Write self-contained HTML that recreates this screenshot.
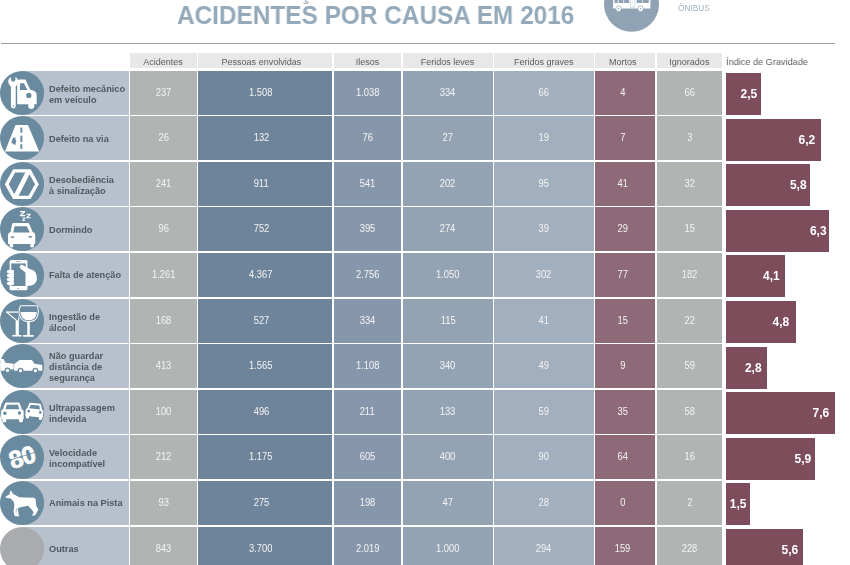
<!DOCTYPE html>
<html><head><meta charset="utf-8">
<style>
*{margin:0;padding:0;box-sizing:border-box}
html,body{width:850px;height:565px;overflow:hidden;background:#fff}
body{position:relative;font-family:"Liberation Sans",sans-serif}
.a,.title,.hd,.c,.lt,.bar{will-change:transform}
.a{position:absolute}
.title{position:absolute;left:177px;top:0px;font-weight:bold;font-size:25px;color:#94a9b9;white-space:nowrap;line-height:30px;transform-origin:0 0;transform:scaleX(0.975)}
.hr{position:absolute;left:0.5px;top:42.6px;width:834px;height:1.6px;background:#9c9c9c}
.hd{position:absolute;top:52.9px;height:15.1px;background:#e8e8e8;color:#5c5c5c;font-size:9.6px;line-height:15.1px;text-align:center;white-space:nowrap}
.hd span{display:inline-block;transform:translateY(1px) scaleX(0.94)}
.c span{display:inline-block;transform:translateY(-1px) scaleX(0.92)}
.c{position:absolute;color:#f4f4f4;font-size:10.2px;text-align:center;white-space:nowrap;display:flex;align-items:center;justify-content:center}
.lab{position:absolute;background:#b6c1cd}
.lt{position:absolute;left:48.7px;color:#53575e;font-weight:bold;font-size:9.2px;line-height:11px;white-space:nowrap;display:flex;flex-direction:column;justify-content:center}
.lt div{transform-origin:0 50%;transform:translateY(2px)}
.bar{position:absolute;left:725.6px;background:#7d4d5c;color:#fff;font-weight:bold;font-size:12px;display:flex;align-items:center;justify-content:flex-end}
.ic{position:absolute;left:0.2px;width:44.1px;height:44.1px}
</style></head><body>

<div class="title">ACIDENTES POR CAUSA EM 2016</div>
<svg class="a" style="left:300px;top:0" width="12" height="6"><path d="M5.2 -1 L5.6 1.3 C7.8 1.4 8.2 2.2 8 2.7 C7.7 3.4 6.2 3.5 3.4 3.3" fill="none" stroke="#94a9b9" stroke-width="1.1"/></svg>
<svg class="a" style="left:603px;top:0" width="58" height="34" viewBox="0 0 58 34">
<circle cx="28.5" cy="4.3" r="27.5" fill="#8fa3b5"/>
<path fill="#fff" d="M10.1 -2 L47.4 -2 L47.4 8.5 L10.1 8.5 Z"/>
<rect x="11.4" y="-1" width="3.4" height="4" fill="#8fa3b5"/><rect x="15.6" y="-1" width="4.8" height="4" fill="#8fa3b5"/><rect x="21.1" y="-1" width="5.1" height="4" fill="#8fa3b5"/>
<rect x="33.6" y="-1" width="5.8" height="4" fill="#8fa3b5"/><rect x="40" y="-1" width="5.8" height="4" fill="#8fa3b5"/>
<rect x="27.6" y="-1" width="4.2" height="8.6" fill="none" stroke="#c4cfd8" stroke-width="0.6"/><rect x="29.55" y="-1" width="0.3" height="8.6" fill="#c4cfd8"/>
<circle cx="15.6" cy="8.7" r="2.8" fill="#fff" stroke="#8fa3b5" stroke-width="0.7"/><circle cx="15.6" cy="8.7" r="0.8" fill="#8fa3b5"/>
<circle cx="37.6" cy="8.7" r="2.8" fill="#fff" stroke="#8fa3b5" stroke-width="0.7"/><circle cx="37.6" cy="8.7" r="0.8" fill="#8fa3b5"/>
</svg>
<div class="a" style="left:677.6px;top:2.2px;font-size:8.3px;color:#a2b1c0;line-height:12px">ÔNIBUS</div>
<div class="hr"></div>
<div class="hd" style="left:130.3px;width:66.50px;padding-left:0px;padding-right:0px"><span>Acidentes</span></div>
<div class="hd" style="left:198.4px;width:134.30px;padding-left:0px;padding-right:8px"><span>Pessoas envolvidas</span></div>
<div class="hd" style="left:334.3px;width:67.20px;padding-left:0px;padding-right:0px"><span>Ilesos</span></div>
<div class="hd" style="left:403.1px;width:89.50px;padding-left:0px;padding-right:0px"><span>Feridos leves</span></div>
<div class="hd" style="left:494.2px;width:99.50px;padding-left:0px;padding-right:0px"><span>Feridos graves</span></div>
<div class="hd" style="left:595.3px;width:59.70px;padding-left:0px;padding-right:4px"><span>Mortos</span></div>
<div class="hd" style="left:656.6px;width:65.40px;padding-left:0px;padding-right:0px"><span>Ignorados</span></div>
<div class="a" style="left:725.6px;top:53.6px;height:15px;line-height:15px;font-size:9.6px;color:#5c5c5c;white-space:nowrap;transform-origin:0 0;transform:scaleX(0.955)">Índice de Gravidade</div>
<div class="lab" style="left:22px;top:70.50px;width:106.7px;height:44.1px"></div>
<svg class="ic" style="top:70.50px" viewBox="0 0 44 44" overflow="visible"><defs><clipPath id="cp0"><circle cx="22" cy="22" r="22"/></clipPath></defs><circle cx="22" cy="22" r="22" fill="#6a8aa0"/><g clip-path="url(#cp0)"><circle cx="13.2" cy="10.6" r="5" fill="#ffffff"/>
<path fill="#6a8aa0" d="M11 4 L15.4 4 L15.4 8.4 A2.2 2.2 0 0 1 11 8.4 Z"/>
<path fill="#ffffff" d="M10.9 12 L15.7 12 L15.7 34.9 A2.4 2.4 0 0 1 10.9 34.9 Z"/>
<circle cx="13.3" cy="35" r="0.7" fill="#6a8aa0"/>
<path fill="#ffffff" d="M17.2 33.3 L17.2 11.2 Q17.2 8.6 19.8 8.6 L25.4 8.6 L30.2 18.6 C34.2 19.2 36.6 21 36.6 24 L36.6 33.3 Z"/>
<path fill="#6a8aa0" d="M19.9 12.3 L23.9 12.3 L27.3 18.9 L19.9 18.9 Z"/>
<circle cx="28.8" cy="24.4" r="2.6" fill="#6a8aa0"/>
<circle cx="31.2" cy="34.8" r="3.1" fill="#ffffff"/></g></svg>
<div class="lt" style="top:70.50px;height:44.1px"><div>Defeito mecânico</div><div>em veículo</div></div>
<div class="c" style="left:130.3px;top:70.50px;width:66.50px;height:44.1px;background:#b0b4b3;padding-left:0px;padding-right:0px"><span>237</span></div>
<div class="c" style="left:198.4px;top:70.50px;width:134.30px;height:44.1px;background:#6e849b;padding-left:0px;padding-right:8px"><span>1.508</span></div>
<div class="c" style="left:334.3px;top:70.50px;width:67.20px;height:44.1px;background:#8797ab;padding-left:0px;padding-right:0px"><span>1.038</span></div>
<div class="c" style="left:403.1px;top:70.50px;width:89.50px;height:44.1px;background:#94a3b3;padding-left:0px;padding-right:0px"><span>334</span></div>
<div class="c" style="left:494.2px;top:70.50px;width:99.50px;height:44.1px;background:#a2afbe;padding-left:0px;padding-right:0px"><span>66</span></div>
<div class="c" style="left:595.3px;top:70.50px;width:59.70px;height:44.1px;background:#8e6a79;padding-left:0px;padding-right:4px"><span>4</span></div>
<div class="c" style="left:656.6px;top:70.50px;width:65.40px;height:44.1px;background:#b0b4b3;padding-left:0px;padding-right:0px"><span>66</span></div>
<div class="bar" style="top:73.00px;width:34.90px;height:41.60px;padding-right:3.60px">2,5</div>
<div class="lab" style="left:22px;top:116.11px;width:106.7px;height:44.1px"></div>
<svg class="ic" style="top:116.11px" viewBox="0 0 44 44" overflow="visible"><defs><clipPath id="cp1"><circle cx="22" cy="22" r="22"/></clipPath></defs><circle cx="22" cy="22" r="22" fill="#6a8aa0"/><g clip-path="url(#cp1)"><path fill="#ffffff" d="M15.5 9 L27.9 9 L39.1 35.3 L4.9 35.3 Z"/>
<rect x="20.3" y="11.5" width="2" height="5.1" fill="#6a8aa0"/><rect x="20.3" y="19.6" width="2" height="6.4" fill="#6a8aa0"/><rect x="20.3" y="28.1" width="2" height="4.7" fill="#6a8aa0"/>
<path fill="#6a8aa0" d="M12.5 21.2 L14 22 L15.6 21 L15.4 23.5 L16.4 25.2 L15.5 27.1 L16 29.2 L14.2 27.9 L12.9 28.4 L12.6 26.9 L11 27.1 L12 25.3 L11.5 23.4 L13 23.2 Z"/></g></svg>
<div class="lt" style="top:114.51px;height:44.1px"><div>Defeito na via</div></div>
<div class="c" style="left:130.3px;top:116.11px;width:66.50px;height:44.1px;background:#b0b4b3;padding-left:0px;padding-right:0px"><span>26</span></div>
<div class="c" style="left:198.4px;top:116.11px;width:134.30px;height:44.1px;background:#6e849b;padding-left:0px;padding-right:8px"><span>132</span></div>
<div class="c" style="left:334.3px;top:116.11px;width:67.20px;height:44.1px;background:#8797ab;padding-left:0px;padding-right:0px"><span>76</span></div>
<div class="c" style="left:403.1px;top:116.11px;width:89.50px;height:44.1px;background:#94a3b3;padding-left:0px;padding-right:0px"><span>27</span></div>
<div class="c" style="left:494.2px;top:116.11px;width:99.50px;height:44.1px;background:#a2afbe;padding-left:0px;padding-right:0px"><span>19</span></div>
<div class="c" style="left:595.3px;top:116.11px;width:59.70px;height:44.1px;background:#8e6a79;padding-left:0px;padding-right:4px"><span>7</span></div>
<div class="c" style="left:656.6px;top:116.11px;width:65.40px;height:44.1px;background:#b0b4b3;padding-left:0px;padding-right:0px"><span>3</span></div>
<div class="bar" style="top:118.61px;width:95.40px;height:41.60px;padding-right:6.20px">6,2</div>
<div class="lab" style="left:22px;top:161.72px;width:106.7px;height:44.1px"></div>
<svg class="ic" style="top:161.72px" viewBox="0 0 44 44" overflow="visible"><defs><clipPath id="cp2"><circle cx="22" cy="22" r="22"/></clipPath></defs><circle cx="22" cy="22" r="22" fill="#6a8aa0"/><g clip-path="url(#cp2)"><path fill="#ffffff" fill-rule="evenodd" d="M13.1 7.2 L30.5 7.2 L38.8 22.1 L30.5 37 L13.1 37 L4.8 22.1 Z M15.1 10.6 L28.5 10.6 L34.9 22.1 L28.5 33.6 L15.1 33.6 L8.7 22.1 Z"/>
<path fill="#ffffff" d="M25.5 10 L30.7 10 L18.3 34.2 L13.1 34.2 Z"/></g></svg>
<div class="lt" style="top:161.72px;height:44.1px"><div>Desobediência</div><div>à sinalização</div></div>
<div class="c" style="left:130.3px;top:161.72px;width:66.50px;height:44.1px;background:#b0b4b3;padding-left:0px;padding-right:0px"><span>241</span></div>
<div class="c" style="left:198.4px;top:161.72px;width:134.30px;height:44.1px;background:#6e849b;padding-left:0px;padding-right:8px"><span>911</span></div>
<div class="c" style="left:334.3px;top:161.72px;width:67.20px;height:44.1px;background:#8797ab;padding-left:0px;padding-right:0px"><span>541</span></div>
<div class="c" style="left:403.1px;top:161.72px;width:89.50px;height:44.1px;background:#94a3b3;padding-left:0px;padding-right:0px"><span>202</span></div>
<div class="c" style="left:494.2px;top:161.72px;width:99.50px;height:44.1px;background:#a2afbe;padding-left:0px;padding-right:0px"><span>95</span></div>
<div class="c" style="left:595.3px;top:161.72px;width:59.70px;height:44.1px;background:#8e6a79;padding-left:0px;padding-right:4px"><span>41</span></div>
<div class="c" style="left:656.6px;top:161.72px;width:65.40px;height:44.1px;background:#b0b4b3;padding-left:0px;padding-right:0px"><span>32</span></div>
<div class="bar" style="top:164.22px;width:83.70px;height:41.60px;padding-right:3.10px">5,8</div>
<div class="lab" style="left:22px;top:207.33px;width:106.7px;height:44.1px"></div>
<svg class="ic" style="top:207.33px" viewBox="0 0 44 44" overflow="visible"><defs><clipPath id="cp3"><circle cx="22" cy="22" r="22"/></clipPath></defs><circle cx="22" cy="22" r="22" fill="#6a8aa0"/><g clip-path="url(#cp3)"><path fill="#ffffff" d="M14 15.9 L27.3 15.9 C28.3 15.9 28.9 16.4 29.3 17.2 L32.6 25 C34.3 25.6 35.2 26.8 35.2 28.4 L35.2 36.6 L33.9 36.8 L33.9 39 C33.9 40 33.2 40.4 32 40.4 C30.8 40.4 30.2 40 30.2 39 L30.2 36.9 L13.2 36.9 L13.2 39 C13.2 40 12.6 40.4 11.4 40.4 C10.2 40.4 9.6 40 9.6 39 L9.6 36.8 L8 36.6 L8 28.4 C8 26.8 8.9 25.6 10.6 25 L12 17.2 C12.4 16.4 13 15.9 14 15.9 Z"/>
<path fill="#6a8aa0" d="M14.6 19.3 L26.8 19.3 L29.8 25.4 L13.2 25.4 Z"/>
<ellipse cx="12.4" cy="30" rx="1.9" ry="0.9" fill="#6a8aa0"/>
<ellipse cx="30.2" cy="29.8" rx="1.9" ry="0.9" fill="#6a8aa0"/>
<path fill="#ffffff" d="M19.9 4 L25.1 4 L25.1 5.2 L21.8 8 L25.3 8 L25.3 9.2 L19.8 9.2 L19.8 8 L23.1 5.2 L19.9 5.2 Z"/>
<path fill="#ffffff" d="M26.3 6.7 L30.6 6.7 L30.6 7.8 L27.9 10.3 L30.8 10.3 L30.8 11.3 L26.2 11.3 L26.2 10.3 L29 7.8 L26.3 7.8 Z"/>
<path fill="#ffffff" d="M22.4 10.6 L25.2 10.6 L25.2 11.4 L23.5 13.2 L25.3 13.2 L25.3 14 L22.3 14 L22.3 13.2 L24 11.4 L22.4 11.4 Z"/></g></svg>
<div class="lt" style="top:205.73px;height:44.1px"><div>Dormindo</div></div>
<div class="c" style="left:130.3px;top:207.33px;width:66.50px;height:44.1px;background:#b0b4b3;padding-left:0px;padding-right:0px"><span>96</span></div>
<div class="c" style="left:198.4px;top:207.33px;width:134.30px;height:44.1px;background:#6e849b;padding-left:0px;padding-right:8px"><span>752</span></div>
<div class="c" style="left:334.3px;top:207.33px;width:67.20px;height:44.1px;background:#8797ab;padding-left:0px;padding-right:0px"><span>395</span></div>
<div class="c" style="left:403.1px;top:207.33px;width:89.50px;height:44.1px;background:#94a3b3;padding-left:0px;padding-right:0px"><span>274</span></div>
<div class="c" style="left:494.2px;top:207.33px;width:99.50px;height:44.1px;background:#a2afbe;padding-left:0px;padding-right:0px"><span>39</span></div>
<div class="c" style="left:595.3px;top:207.33px;width:59.70px;height:44.1px;background:#8e6a79;padding-left:0px;padding-right:4px"><span>29</span></div>
<div class="c" style="left:656.6px;top:207.33px;width:65.40px;height:44.1px;background:#b0b4b3;padding-left:0px;padding-right:0px"><span>15</span></div>
<div class="bar" style="top:209.83px;width:103.40px;height:41.60px;padding-right:2.80px">6,3</div>
<div class="lab" style="left:22px;top:252.94px;width:106.7px;height:44.1px"></div>
<svg class="ic" style="top:252.94px" viewBox="0 0 44 44" overflow="visible"><defs><clipPath id="cp4"><circle cx="22" cy="22" r="22"/></clipPath></defs><circle cx="22" cy="22" r="22" fill="#6a8aa0"/><g clip-path="url(#cp4)"><rect x="9.6" y="7" width="17.8" height="30.2" rx="1.6" fill="#ffffff"/>
<rect x="11.3" y="10.4" width="14.4" height="22.5" fill="#6a8aa0"/>
<rect x="16" y="8.4" width="4.6" height="0.6" fill="#6a8aa0"/>
<circle cx="18.2" cy="35.3" r="0.7" fill="#6a8aa0"/>
<path fill="#ffffff" d="M20.4 12.2 C21.4 11.6 22.4 11.8 23.4 12.4 L30 16.2 C35 17 36.8 20.5 36.8 25 C36.8 29.8 34 32.6 29.5 32.6 L25.6 32.6 L25.6 19.6 L20.6 15.8 C19.4 14.8 19.4 12.9 20.4 12.2 Z"/>
<rect x="6.8" y="16.9" width="6.9" height="3.3" rx="1.65" fill="#ffffff"/>
<rect x="6.8" y="20.8" width="6.9" height="3.3" rx="1.65" fill="#ffffff"/>
<rect x="6.8" y="24.7" width="6.9" height="3.3" rx="1.65" fill="#ffffff"/>
<rect x="6.8" y="28.6" width="6.9" height="3.3" rx="1.65" fill="#ffffff"/>
<rect x="11.3" y="16.9" width="2.4" height="15" fill="#ffffff"/></g></svg>
<div class="lt" style="top:251.34px;height:44.1px"><div>Falta de atenção</div></div>
<div class="c" style="left:130.3px;top:252.94px;width:66.50px;height:44.1px;background:#b0b4b3;padding-left:0px;padding-right:0px"><span>1.261</span></div>
<div class="c" style="left:198.4px;top:252.94px;width:134.30px;height:44.1px;background:#6e849b;padding-left:0px;padding-right:8px"><span>4.367</span></div>
<div class="c" style="left:334.3px;top:252.94px;width:67.20px;height:44.1px;background:#8797ab;padding-left:0px;padding-right:0px"><span>2.756</span></div>
<div class="c" style="left:403.1px;top:252.94px;width:89.50px;height:44.1px;background:#94a3b3;padding-left:0px;padding-right:0px"><span>1.050</span></div>
<div class="c" style="left:494.2px;top:252.94px;width:99.50px;height:44.1px;background:#a2afbe;padding-left:0px;padding-right:0px"><span>302</span></div>
<div class="c" style="left:595.3px;top:252.94px;width:59.70px;height:44.1px;background:#8e6a79;padding-left:0px;padding-right:4px"><span>77</span></div>
<div class="c" style="left:656.6px;top:252.94px;width:65.40px;height:44.1px;background:#b0b4b3;padding-left:0px;padding-right:0px"><span>182</span></div>
<div class="bar" style="top:255.44px;width:58.60px;height:41.60px;padding-right:4.90px">4,1</div>
<div class="lab" style="left:22px;top:298.55px;width:106.7px;height:44.1px"></div>
<svg class="ic" style="top:298.55px" viewBox="0 0 44 44" overflow="visible"><defs><clipPath id="cp5"><circle cx="22" cy="22" r="22"/></clipPath></defs><circle cx="22" cy="22" r="22" fill="#6a8aa0"/><g clip-path="url(#cp5)"><path fill="none" stroke="#ffffff" stroke-width="1.1" d="M6.6 13 L17 21.9 M20 13 L18.4 21.9"/>
<rect x="6" y="12.4" width="14.4" height="1.3" fill="#ffffff"/>
<path fill="#ffffff" d="M15.6 21.4 L18.8 21.4 L18.8 36.3 L15.6 36.3 Z"/>
<rect x="12.1" y="35.8" width="9.6" height="1.5" rx="0.6" fill="#ffffff"/>
<path fill="#6a8aa0" d="M19.6 5.8 L38.4 5.8 C39.5 9.6 39.6 13 38.8 16.2 C37.5 21 33.6 23.6 28.6 23.6 C23.6 23.6 19.7 21 18.4 16.2 C17.6 13 17.9 9.6 19.6 5.8 Z"/>
<path fill="none" stroke="#ffffff" stroke-width="1.05" d="M20.6 6.8 L37.4 6.8 C38.4 10 38.6 13 37.8 16 C36.6 20.2 33 22.6 28.6 22.6 C24.2 22.6 20.6 20.2 19.4 16 C18.6 13 18.8 10 20.6 6.8 Z"/>
<path fill="#ffffff" d="M20.6 13 L36.6 13 C36.6 14 36.5 15 36.2 16 C35.2 19.3 32.4 21.3 28.6 21.3 C24.8 21.3 22 19.3 21 16 C20.7 15 20.6 14 20.6 13 Z"/>
<rect x="27.2" y="22.3" width="2.5" height="14" fill="#ffffff"/>
<rect x="22.9" y="36" width="10.9" height="1.7" rx="0.7" fill="#ffffff"/></g></svg>
<div class="lt" style="top:298.55px;height:44.1px"><div>Ingestão de</div><div>álcool</div></div>
<div class="c" style="left:130.3px;top:298.55px;width:66.50px;height:44.1px;background:#b0b4b3;padding-left:0px;padding-right:0px"><span>168</span></div>
<div class="c" style="left:198.4px;top:298.55px;width:134.30px;height:44.1px;background:#6e849b;padding-left:0px;padding-right:8px"><span>527</span></div>
<div class="c" style="left:334.3px;top:298.55px;width:67.20px;height:44.1px;background:#8797ab;padding-left:0px;padding-right:0px"><span>334</span></div>
<div class="c" style="left:403.1px;top:298.55px;width:89.50px;height:44.1px;background:#94a3b3;padding-left:0px;padding-right:0px"><span>115</span></div>
<div class="c" style="left:494.2px;top:298.55px;width:99.50px;height:44.1px;background:#a2afbe;padding-left:0px;padding-right:0px"><span>41</span></div>
<div class="c" style="left:595.3px;top:298.55px;width:59.70px;height:44.1px;background:#8e6a79;padding-left:0px;padding-right:4px"><span>15</span></div>
<div class="c" style="left:656.6px;top:298.55px;width:65.40px;height:44.1px;background:#b0b4b3;padding-left:0px;padding-right:0px"><span>22</span></div>
<div class="bar" style="top:301.05px;width:69.60px;height:41.60px;padding-right:6.40px">4,8</div>
<div class="lab" style="left:22px;top:344.16px;width:106.7px;height:44.1px"></div>
<svg class="ic" style="top:344.16px" viewBox="0 0 44 44" overflow="visible"><defs><clipPath id="cp6"><circle cx="22" cy="22" r="22"/></clipPath></defs><circle cx="22" cy="22" r="22" fill="#6a8aa0"/><g clip-path="url(#cp6)"><path fill="#ffffff" d="M-2 26.6 L-2 14.9 L3.6 14.9 L5.4 18.6 L13.6 19.8 L13.6 26.6 Z"/>
<path fill="#ffffff" d="M14.1 26.8 L14.1 19.9 L19.6 16 L31.9 16 L34.4 19.6 L42.2 20.9 L42.2 26.8 Z"/>
<rect x="10" y="25.3" width="4.1" height="1.6" fill="#6a8aa0"/>
<circle cx="7.5" cy="26.4" r="3" fill="#6a8aa0"/><circle cx="7.5" cy="26.4" r="1.6" fill="#ffffff"/>
<circle cx="20.5" cy="26.6" r="3" fill="#6a8aa0"/><circle cx="20.5" cy="26.6" r="1.6" fill="#ffffff"/>
<circle cx="35.3" cy="26.6" r="3" fill="#6a8aa0"/><circle cx="35.3" cy="26.6" r="1.6" fill="#ffffff"/></g></svg>
<div class="lt" style="top:343.36px;height:44.1px"><div>Não guardar</div><div>distância de</div><div>segurança</div></div>
<div class="c" style="left:130.3px;top:344.16px;width:66.50px;height:44.1px;background:#b0b4b3;padding-left:0px;padding-right:0px"><span>413</span></div>
<div class="c" style="left:198.4px;top:344.16px;width:134.30px;height:44.1px;background:#6e849b;padding-left:0px;padding-right:8px"><span>1.565</span></div>
<div class="c" style="left:334.3px;top:344.16px;width:67.20px;height:44.1px;background:#8797ab;padding-left:0px;padding-right:0px"><span>1.108</span></div>
<div class="c" style="left:403.1px;top:344.16px;width:89.50px;height:44.1px;background:#94a3b3;padding-left:0px;padding-right:0px"><span>340</span></div>
<div class="c" style="left:494.2px;top:344.16px;width:99.50px;height:44.1px;background:#a2afbe;padding-left:0px;padding-right:0px"><span>49</span></div>
<div class="c" style="left:595.3px;top:344.16px;width:59.70px;height:44.1px;background:#8e6a79;padding-left:0px;padding-right:4px"><span>9</span></div>
<div class="c" style="left:656.6px;top:344.16px;width:65.40px;height:44.1px;background:#b0b4b3;padding-left:0px;padding-right:0px"><span>59</span></div>
<div class="bar" style="top:346.66px;width:41.40px;height:41.60px;padding-right:5.80px">2,8</div>
<div class="lab" style="left:22px;top:389.77px;width:106.7px;height:44.1px"></div>
<svg class="ic" style="top:389.77px" viewBox="0 0 44 44" overflow="visible"><defs><clipPath id="cp7"><circle cx="22" cy="22" r="22"/></clipPath></defs><circle cx="22" cy="22" r="22" fill="#6a8aa0"/><g clip-path="url(#cp7)"><path fill="#ffffff" d="M6.5 12.5 L18.2 12.5 C19 12.5 19.5 12.9 19.8 13.7 L21.8 19.5 C23 19.9 23.6 20.6 23.6 21.8 L23.6 29.1 L22.8 29.1 L22.8 31.2 C22.8 31.9 22.2 32.2 20.9 32.2 C19.6 32.2 19 31.9 19 31.2 L19 29.1 L6.2 29.1 L6.2 31.2 C6.2 31.9 5.6 32.2 4.3 32.2 C3 32.2 2.35 31.9 2.35 31.2 L2.35 29.1 L1.1 29.1 L1.1 21.8 C1.1 20.6 1.7 19.9 2.9 19.5 L4.9 13.7 C5.2 12.9 5.7 12.5 6.5 12.5 Z"/>
<path fill="#6a8aa0" d="M6.8 14.8 L18 14.8 L19.3 19.3 L5.6 19.3 Z"/>
<circle cx="4.9" cy="23.2" r="1.7" fill="#6a8aa0"/><circle cx="19.4" cy="22.9" r="1.7" fill="#6a8aa0"/>
<g transform="rotate(6 34 22)">
<path fill="#ffffff" d="M29.6 13.2 L38.8 13.2 C39.5 13.2 39.9 13.5 40.2 14.2 L41.8 19 C42.7 19.3 43.2 19.9 43.2 20.9 L43.2 26.6 L42.5 26.6 L42.5 28.3 C42.5 28.9 42 29.1 41 29.1 C40 29.1 39.5 28.9 39.5 28.3 L39.5 26.6 L29.4 26.6 L29.4 28.3 C29.4 28.9 28.9 29.1 27.9 29.1 C26.9 29.1 26.4 28.9 26.4 28.3 L26.4 26.6 L25.6 26.6 L25.6 20.9 C25.6 19.9 26.1 19.3 27 19 L28.2 14.2 C28.5 13.5 28.9 13.2 29.6 13.2 Z"/>
<path fill="#6a8aa0" d="M29.9 15 L38.5 15 L39.6 18.8 L28.8 18.8 Z"/>
<circle cx="28.6" cy="21.6" r="1.4" fill="#6a8aa0"/><circle cx="40.2" cy="21.6" r="1.4" fill="#6a8aa0"/>
</g></g></svg>
<div class="lt" style="top:389.77px;height:44.1px"><div>Ultrapassagem</div><div>indevida</div></div>
<div class="c" style="left:130.3px;top:389.77px;width:66.50px;height:44.1px;background:#b0b4b3;padding-left:0px;padding-right:0px"><span>100</span></div>
<div class="c" style="left:198.4px;top:389.77px;width:134.30px;height:44.1px;background:#6e849b;padding-left:0px;padding-right:8px"><span>496</span></div>
<div class="c" style="left:334.3px;top:389.77px;width:67.20px;height:44.1px;background:#8797ab;padding-left:0px;padding-right:0px"><span>211</span></div>
<div class="c" style="left:403.1px;top:389.77px;width:89.50px;height:44.1px;background:#94a3b3;padding-left:0px;padding-right:0px"><span>133</span></div>
<div class="c" style="left:494.2px;top:389.77px;width:99.50px;height:44.1px;background:#a2afbe;padding-left:0px;padding-right:0px"><span>59</span></div>
<div class="c" style="left:595.3px;top:389.77px;width:59.70px;height:44.1px;background:#8e6a79;padding-left:0px;padding-right:4px"><span>35</span></div>
<div class="c" style="left:656.6px;top:389.77px;width:65.40px;height:44.1px;background:#b0b4b3;padding-left:0px;padding-right:0px"><span>58</span></div>
<div class="bar" style="top:392.27px;width:108.60px;height:41.60px;padding-right:5.40px">7,6</div>
<div class="lab" style="left:22px;top:435.38px;width:106.7px;height:44.1px"></div>
<svg class="ic" style="top:435.38px" viewBox="0 0 44 44" overflow="visible"><defs><clipPath id="cp8"><circle cx="22" cy="22" r="22"/></clipPath></defs><circle cx="22" cy="22" r="22" fill="#6a8aa0"/><g clip-path="url(#cp8)"><g transform="rotate(-17 22 22)"><text x="22" y="30.6" text-anchor="middle" font-family="Liberation Sans" font-weight="bold" font-size="24.5" fill="#ffffff" stroke="#ffffff" stroke-width="0.7" letter-spacing="-0.5">80</text>
<rect x="4" y="20.9" width="36" height="0.7" fill="#6a8aa0"/></g></g></svg>
<div class="lt" style="top:435.38px;height:44.1px"><div>Velocidade</div><div>incompatível</div></div>
<div class="c" style="left:130.3px;top:435.38px;width:66.50px;height:44.1px;background:#b0b4b3;padding-left:0px;padding-right:0px"><span>212</span></div>
<div class="c" style="left:198.4px;top:435.38px;width:134.30px;height:44.1px;background:#6e849b;padding-left:0px;padding-right:8px"><span>1.175</span></div>
<div class="c" style="left:334.3px;top:435.38px;width:67.20px;height:44.1px;background:#8797ab;padding-left:0px;padding-right:0px"><span>605</span></div>
<div class="c" style="left:403.1px;top:435.38px;width:89.50px;height:44.1px;background:#94a3b3;padding-left:0px;padding-right:0px"><span>400</span></div>
<div class="c" style="left:494.2px;top:435.38px;width:99.50px;height:44.1px;background:#a2afbe;padding-left:0px;padding-right:0px"><span>90</span></div>
<div class="c" style="left:595.3px;top:435.38px;width:59.70px;height:44.1px;background:#8e6a79;padding-left:0px;padding-right:4px"><span>64</span></div>
<div class="c" style="left:656.6px;top:435.38px;width:65.40px;height:44.1px;background:#b0b4b3;padding-left:0px;padding-right:0px"><span>16</span></div>
<div class="bar" style="top:437.88px;width:88.80px;height:41.60px;padding-right:3.60px">5,9</div>
<div class="lab" style="left:22px;top:480.99px;width:106.7px;height:44.1px"></div>
<svg class="ic" style="top:480.99px" viewBox="0 0 44 44" overflow="visible"><defs><clipPath id="cp9"><circle cx="22" cy="22" r="22"/></clipPath></defs><circle cx="22" cy="22" r="22" fill="#6a8aa0"/><g clip-path="url(#cp9)"><path fill="#ffffff" d="M5.3 15.7 L9.3 13.4 L10.6 9.2 L13.2 13 L19.3 16.2 L33.6 16.8 L35.4 17.7 L36.3 25.3 L38.3 28.5 L35.1 34.1 L31.9 34.6 L33.6 31.1 L30.9 27.6 L28.1 24.7 L25.2 25.3 L19.3 26.4 L17.6 27.6 L18.7 33.4 L19.3 35.2 L14.7 35.2 L13.5 30.4 L14.4 24 L13.5 20.4 L10.6 17.5 L6.5 16.9 Z"/>
<path fill="#6a8aa0" d="M15.9 27.5 L16.5 27.3 L16.3 31.5 L15.8 31.7 Z"/></g></svg>
<div class="lt" style="top:479.39px;height:44.1px"><div>Animais na Pista</div></div>
<div class="c" style="left:130.3px;top:480.99px;width:66.50px;height:44.1px;background:#b0b4b3;padding-left:0px;padding-right:0px"><span>93</span></div>
<div class="c" style="left:198.4px;top:480.99px;width:134.30px;height:44.1px;background:#6e849b;padding-left:0px;padding-right:8px"><span>275</span></div>
<div class="c" style="left:334.3px;top:480.99px;width:67.20px;height:44.1px;background:#8797ab;padding-left:0px;padding-right:0px"><span>198</span></div>
<div class="c" style="left:403.1px;top:480.99px;width:89.50px;height:44.1px;background:#94a3b3;padding-left:0px;padding-right:0px"><span>47</span></div>
<div class="c" style="left:494.2px;top:480.99px;width:99.50px;height:44.1px;background:#a2afbe;padding-left:0px;padding-right:0px"><span>28</span></div>
<div class="c" style="left:595.3px;top:480.99px;width:59.70px;height:44.1px;background:#8e6a79;padding-left:0px;padding-right:4px"><span>0</span></div>
<div class="c" style="left:656.6px;top:480.99px;width:65.40px;height:44.1px;background:#b0b4b3;padding-left:0px;padding-right:0px"><span>2</span></div>
<div class="bar" style="top:483.49px;width:23.60px;height:41.60px;padding-right:3.10px">1,5</div>
<div class="lab" style="left:22px;top:526.60px;width:106.7px;height:44.1px"></div>
<svg class="ic" style="top:526.60px" viewBox="0 0 44 44" overflow="visible"><defs><clipPath id="cp10"><circle cx="22" cy="22" r="22"/></clipPath></defs><circle cx="22" cy="22" r="22" fill="#a9abae"/><g clip-path="url(#cp10)"></g></svg>
<div class="lt" style="top:525.00px;height:44.1px"><div>Outras</div></div>
<div class="c" style="left:130.3px;top:526.60px;width:66.50px;height:44.1px;background:#b0b4b3;padding-left:0px;padding-right:0px"><span>843</span></div>
<div class="c" style="left:198.4px;top:526.60px;width:134.30px;height:44.1px;background:#6e849b;padding-left:0px;padding-right:8px"><span>3.700</span></div>
<div class="c" style="left:334.3px;top:526.60px;width:67.20px;height:44.1px;background:#8797ab;padding-left:0px;padding-right:0px"><span>2.019</span></div>
<div class="c" style="left:403.1px;top:526.60px;width:89.50px;height:44.1px;background:#94a3b3;padding-left:0px;padding-right:0px"><span>1.000</span></div>
<div class="c" style="left:494.2px;top:526.60px;width:99.50px;height:44.1px;background:#a2afbe;padding-left:0px;padding-right:0px"><span>294</span></div>
<div class="c" style="left:595.3px;top:526.60px;width:59.70px;height:44.1px;background:#8e6a79;padding-left:0px;padding-right:4px"><span>159</span></div>
<div class="c" style="left:656.6px;top:526.60px;width:65.40px;height:44.1px;background:#b0b4b3;padding-left:0px;padding-right:0px"><span>228</span></div>
<div class="bar" style="top:529.10px;width:77.30px;height:41.60px;padding-right:5.10px">5,6</div>
</body></html>
